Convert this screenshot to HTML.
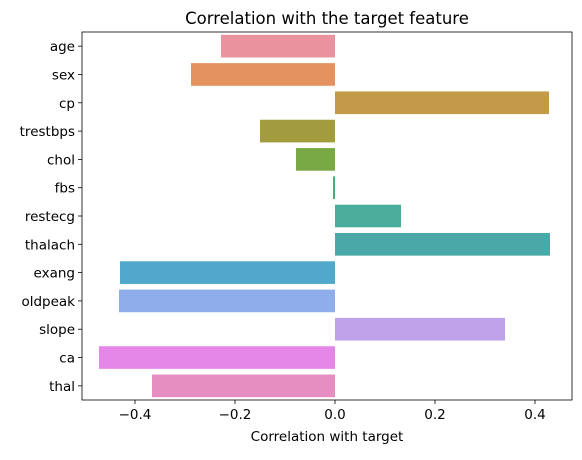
<!DOCTYPE html>
<html><head><meta charset="utf-8"><style>
body{margin:0;background:#fff;}
svg text{font-family:"DejaVu Sans","Liberation Sans",sans-serif;fill:#000;}
</style></head><body>
<svg id="chart" width="582" height="455" xmlns="http://www.w3.org/2000/svg"></svg>
<script>
const categories=["age","sex","cp","trestbps","chol","fbs","restecg","thalach","exang","oldpeak","slope","ca","thal"];
const values=[-0.228,-0.288,0.428,-0.150,-0.078,-0.004,0.132,0.430,-0.430,-0.432,0.340,-0.472,-0.366];
const colors=["#e8939e","#e4925f","#c39b48","#a29c3e","#79a944","#4aae76","#4aad9b","#4ba8a9","#51a8cc","#8fadea","#bfa2ea","#e587e8","#e68dc2"];
const xTicks=[-0.4,-0.2,0.0,0.2,0.4];
const xTickLabels=["−0.4","−0.2","0.0","0.2","0.4"];
const NS="http://www.w3.org/2000/svg";
const svg=document.getElementById('chart');
const L=82,R=572,T=32,B=400;
const x=v=>335+v*500;
const band=(B-T)/categories.length;
const y=i=>T+band*i;
function mk(tag,attrs,parent){const e=document.createElementNS(NS,tag);for(const k in attrs)e.setAttribute(k,attrs[k]);(parent||svg).appendChild(e);return e;}
categories.forEach((c,i)=>{
  const v=values[i];
  const r=mk('rect',{x:Math.min(x(0),x(v)),y:y(i)+band*0.1,width:Math.abs(x(v)-x(0)),height:band*0.8,fill:colors[i]});
  
  
  mk('line',{x1:L,x2:L-4,y1:y(i)+band/2,y2:y(i)+band/2,stroke:'#000','stroke-width':0.8});
  const t=mk('text',{x:L-7,y:y(i)+band/2+5,'text-anchor':'end','font-size':13.5});
  t.textContent=c;
  
  
});
xTicks.forEach((v,i)=>{
  mk('line',{x1:x(v),x2:x(v),y1:B,y2:B+4,stroke:'#000','stroke-width':0.8});
  const t=mk('text',{x:x(v),y:B+19,'text-anchor':'middle','font-size':13.5});
  t.textContent=xTickLabels[i];
  
  
});
const f=mk('rect',{x:L,y:T,width:R-L,height:B-T,fill:'none',stroke:'#000','stroke-width':0.8});


const ti=mk('text',{x:(L+R)/2,y:24,'text-anchor':'middle','font-size':16.5});
ti.textContent="Correlation with the target feature";


const xl=mk('text',{x:(L+R)/2,y:441,'text-anchor':'middle','font-size':13.5});
xl.textContent="Correlation with target";


</script>
</body></html>
